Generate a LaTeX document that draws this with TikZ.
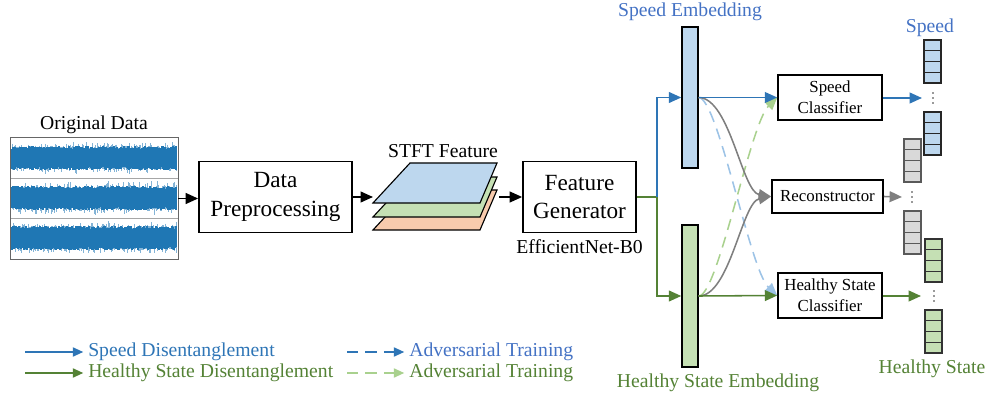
\documentclass[tikz,border=0pt]{standalone}
\usepackage{fontspec}
\setmainfont{Liberation Serif}
\usetikzlibrary{positioning}
\usetikzlibrary{arrows.meta}
\definecolor{lineblue}{HTML}{2E75B6}
\definecolor{txtblue}{HTML}{4472C4}
\definecolor{embblue}{HTML}{BDD7EE}
\definecolor{dashblue}{HTML}{9DC3E6}
\definecolor{hsgreen}{HTML}{548235}
\definecolor{embgreen}{HTML}{C5E0B4}
\definecolor{dashgreen}{HTML}{A9D18E}
\definecolor{stftorange}{HTML}{F8CBAD}
\definecolor{cellgray}{HTML}{D9D9D9}
\definecolor{recgray}{HTML}{7F7F7F}
\definecolor{wave}{HTML}{1F77B4}
\tikzset{proc node/.style={rectangle,draw,line width=1.1pt,fill=white,align=center,inner sep=0pt,font=\fontsize{16.5}{20.5}\selectfont},}
\tikzset{head node/.style={rectangle,draw,line width=1.1pt,fill=white,align=center,inner sep=0pt,font=\fontsize{12}{15}\selectfont,minimum width=2.6cm,minimum height=1.13cm},}
\tikzset{emb node/.style={rectangle,draw,line width=1pt,minimum width=0.4cm,inner sep=0pt},}
\tikzset{lbl node/.style={font=\fontsize{14}{16}\selectfont,inner sep=0pt},}
\tikzset{arr/.style={-{Triangle[length=3.1mm,width=2.7mm]},line width=1.1pt},}
\tikzset{lg arr/.style={-{Triangle[length=2.6mm,width=2.3mm]},line width=1.1pt,shorten >=1.2mm},}
\tikzset{dash line/.style={dash pattern=on 2.8mm off 1.8mm},}

\begin{document}
\begin{tikzpicture}[x=0.025cm,y=-0.025cm]
     \useasboundingbox (0,0) rectangle (992,400);

     % original signals
     \pgfmathsetseed{11}
     \foreach \c in {158,198,238}{
       \foreach \x in {12,13,...,176}{
         \pgfmathsetmacro{\up}{\c-10-7*rnd*rnd}
         \pgfmathsetmacro{\dn}{\c+10+7*rnd*rnd}
         \draw[wave!55,line width=0.25mm] (\x,\up) -- (\x,\dn);
         \pgfmathsetmacro{\up}{\c-9-3*rnd}
         \pgfmathsetmacro{\dn}{\c+9+3*rnd}
         \draw[wave,line width=0.3mm] (\x,\up) -- (\x,\dn);
       }
     }
     \draw[black!35,line width=0.6pt] (10,178) -- (178,178) (10,218) -- (178,218);
     \node[draw=black!60,line width=0.6pt,minimum width=4.2cm,minimum height=3.03cm,inner sep=0pt] (orig) at (94,198.5) {};
     \node[lbl node] (origlbl) at (94,125) {Original Data};

     \node[proc node,minimum width=3.83cm,minimum height=1.78cm] (prep) at (275.5,197) {Data\\Preprocessing};

     % stft stack
     \foreach \off/\cc in {27/stftorange,14/embgreen,0/embblue}
       \draw[fill=\cc,line width=0.8pt] (373,{203+\off}) -- (480,{203+\off}) -- (497,{163+\off}) -- (410,{163+\off}) -- cycle;
     \coordinate (stftin) at (373,197);
     \coordinate (stftout) at (499,197);
     \node[lbl node] (stftlbl) at (443,151) {STFT Feature};

     \node[proc node,minimum width=2.83cm,minimum height=1.78cm] (gen) at (579.5,197) {Feature\\Generator};
     \node[lbl node] (effnet) [below=0.15cm of gen] {EfficientNet-B0};

     \path[arr]
     (orig.east) edge (orig.east -| prep.west)
     (prep) edge (stftin)
     (stftout) edge (gen);

     % embeddings
     \node[emb node,fill=embblue,minimum height=3.53cm] (spdemb) at (690,97.5) {};
     \node[emb node,fill=embgreen,minimum height=3.55cm] (hsemb) at (690,296) {};
     \node[lbl node,text=txtblue] (spdemblbl) at (690,12) {Speed Embedding};
     \node[lbl node,text=hsgreen] (hsemblbl) at (718,383) {Healthy State Embedding};

     \coordinate (fork) at (657,197);
     \draw[hsgreen,line width=1.1pt] (gen.east) -- (fork);
     \draw[arr,lineblue] (fork) |- (spdemb.west);
     \draw[arr,hsgreen] (fork) |- (hsemb.west);

     % heads
     \node[head node] (spdcls) at (830,97.5) {Speed\\Classifier};
     \node[head node,minimum width=2.78cm,minimum height=0.83cm] (recon) at (827.5,196.5) {Reconstructor};
     \node[head node] (hscls) at (830,295.5) {Healthy State\\Classifier};

     \draw[arr,dashblue,dash line] (spdemb.east) .. controls (718,98) and (750,270) .. (hscls.west);
     \draw[arr,dashgreen,dash line] (hsemb.east) .. controls (718,296) and (750,124) .. (spdcls.west);
     \draw[arr,recgray] (spdemb.east) .. controls (730,98) and (742,192) .. (recon.west);
     \draw[arr,recgray] (hsemb.east) .. controls (730,296) and (742,202) .. (recon.west);
     \draw[arr,lineblue] (spdemb.east) -- (spdcls.west);
     \draw[arr,hsgreen] (hsemb.east) -- (hscls.west);

     % outputs
     \foreach \xx/\yy/\cc/\bb in {924/40/embblue/black!85,924/112/embblue/black!85,904/139/cellgray/black!65,904/211/cellgray/black!65,925/239/embgreen/black!80,925/310/embgreen/black!80}
       \foreach \k in {0,...,3}
         \draw[fill=\cc,draw=\bb,line width=0.8pt] (\xx,{\yy+10.75*\k}) rectangle ++(17,10.75);
     \foreach \dx/\dy in {933/98,912/197,934/296}
       \foreach \j in {-5,0,5}
         \fill[black!80] (\dx,{\dy+\j}) circle[radius=0.2mm];
     \coordinate (spdout) at (922,98);
     \coordinate (recout) at (902,197);
     \coordinate (hsout) at (921,296);
     \draw[arr,lineblue] (spdcls.east |- spdout) -- (spdout);
     \draw[arr,recgray] (recon.east) -- (recout);
     \draw[arr,hsgreen] (hscls.east |- hsout) -- (hsout);
     \node[lbl node,text=txtblue] (spdlbl) at (930,28) {Speed};
     \node[lbl node,text=hsgreen] (hslbl) at (932,369) {Healthy State};

     % legend
     \node[lbl node,anchor=west,text=lineblue] (lgspd) at (88,352) {Speed Disentanglement};
     \node[lbl node,anchor=west,text=hsgreen] (lghs) at (88,373) {Healthy State Disentanglement};
     \node[lbl node,anchor=west,text=txtblue] (lgadvb) at (409,352) {Adversarial Training};
     \node[lbl node,anchor=west,text=hsgreen] (lgadvg) at (409,373) {Adversarial Training};
     \coordinate (lgspdtail) at (25,352);
     \coordinate (lghstail) at (25,373);
     \coordinate (lgadvbtail) at (347,352);
     \coordinate (lgadvgtail) at (347,373);
     \draw[lg arr,lineblue] (lgspdtail) -- (lgspd.west);
     \draw[lg arr,hsgreen] (lghstail) -- (lghs.west);
     \draw[lg arr,lineblue,dash line] (lgadvbtail) -- (lgadvb.west);
     \draw[lg arr,dashgreen,dash line] (lgadvgtail) -- (lgadvg.west);
\end{tikzpicture}
\end{document}
